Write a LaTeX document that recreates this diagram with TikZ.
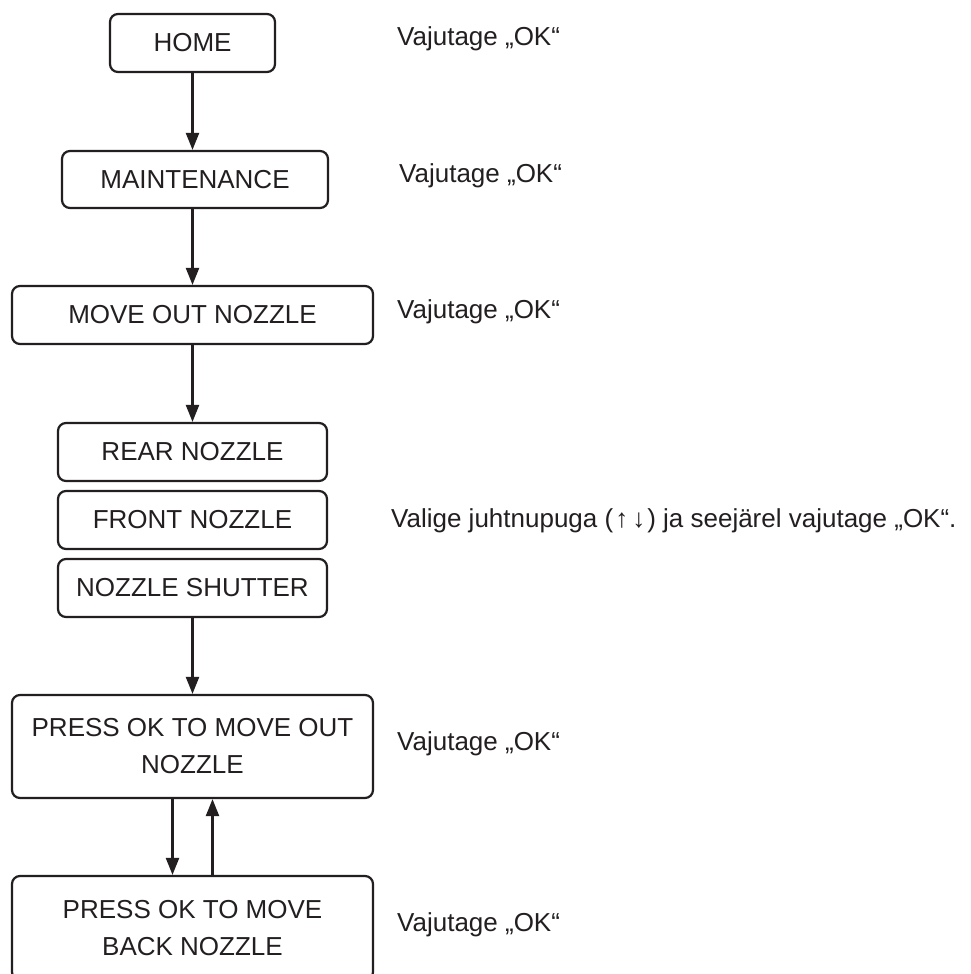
\documentclass[tikz,border=0pt]{standalone}
\usepackage{fontspec}
\setmainfont{Liberation Sans}
\usetikzlibrary{arrows.meta}
\definecolor{ink}{HTML}{231F20}
\begin{document}
\begin{tikzpicture}[x=1pt,y=-1pt,
  every node/.style={font=\fontsize{26}{37}\selectfont, text=ink},
  menubox/.style={draw=ink, line width=2.2pt, rounded corners=8pt, inner sep=0pt, align=center},
  note/.style={anchor=base west, inner sep=0pt},
  flow/.style={draw=ink, line width=2.2pt, -{Triangle[length=17pt,width=13pt]}}]
\useasboundingbox (0,0) rectangle (970,974);
\fill[white] (0,0) rectangle (970,974);
\node[menubox, minimum width=165pt, minimum height=58pt] (home) at (192.5,43) {HOME};
\node[menubox, minimum width=266pt, minimum height=57pt] (maint) at (195,179.5) {MAINTENANCE};
\node[menubox, minimum width=361pt, minimum height=58pt] (moveout) at (192.5,315) {MOVE OUT NOZZLE};
\node[menubox, minimum width=269pt, minimum height=58pt] (rear) at (192.5,452) {REAR NOZZLE};
\node[menubox, minimum width=269pt, minimum height=58pt] (front) at (192.5,520) {FRONT NOZZLE};
\node[menubox, minimum width=269pt, minimum height=58pt] (shutter) at (192.5,588) {NOZZLE SHUTTER};
\node[menubox, minimum width=361pt, minimum height=103pt] (pout) at (192.5,746.5) {PRESS OK TO MOVE OUT\\NOZZLE};
\node[menubox, minimum width=361pt, minimum height=104pt] (pback) at (192.5,928) {PRESS OK TO MOVE\\BACK NOZZLE};

\node[note] (n1) at (397,46) {Vajutage „OK“};
\node[note] (n2) at (399,182) {Vajutage „OK“};
\node[note] (n3) at (397,318) {Vajutage „OK“};
\node[note] (n4) at (391,527) {Valige juhtnupuga (\kern2pt↑\kern4pt↓\kern2pt) ja seejärel vajutage „OK“.};
\node[note] (n5) at (397,750) {Vajutage „OK“};
\node[note] (n6) at (397,931) {Vajutage „OK“};

\draw[flow] (home.south) -- (home.south |- maint.north);
\draw[flow] (home.south |- maint.south) -- (moveout.north);
\draw[flow] (moveout.south) -- (rear.north);
\draw[flow] (shutter.south) -- (pout.north);
\draw[flow] ([xshift=-20pt]pout.south) -- ([xshift=-20pt]pback.north);
\draw[flow] ([xshift=20pt]pback.north) -- ([xshift=20pt]pout.south);
\end{tikzpicture}
\end{document}
